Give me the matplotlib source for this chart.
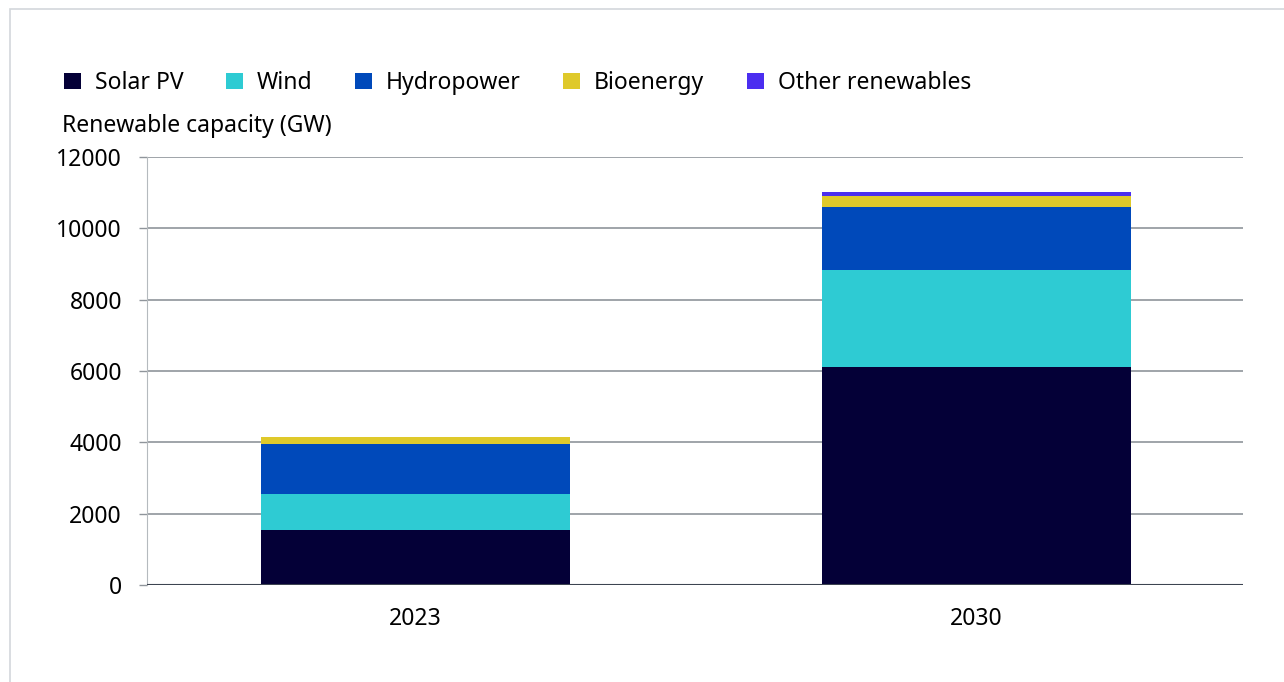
import matplotlib
matplotlib.use("Agg")
import matplotlib.pyplot as plt
from matplotlib.patches import Patch, Rectangle

# data (GW)
years = ["2023", "2030"]
solar = [1540, 6110]
wind = [1010, 2720]
hydro = [1400, 1770]
bio = [195, 310]
other = [15, 110]

series = ["Solar PV", "Wind", "Hydropower", "Bioenergy", "Other renewables"]
colors = ["#040037", "#2ecbd3", "#0049ba", "#dfc92a", "#4b2ef0"]
yticks = [0, 2000, 4000, 6000, 8000, 10000, 12000]

plt.rcParams["font.family"] = ["Noto Sans", "DejaVu Sans"]
fs = 16.5

fig = plt.figure(figsize=(12.84, 6.82), dpi=100)
# light frame around the card
fig.patches.append(Rectangle((10 / 1284, -0.01), 1.02, 1 - 9 / 682 + 0.01,
                             transform=fig.transFigure, fill=False,
                             edgecolor="#d3d7db", linewidth=1.2))

ax = fig.add_axes([147 / 1284, 1 - 585 / 682, 1096 / 1284, 428 / 682])
x = [0, 1]
bottom = [0, 0]
for vals, c in zip([solar, wind, hydro, bio, other], colors):
    ax.bar(x, vals, width=0.551, bottom=bottom, color=c, zorder=3)
    bottom = [b + v for b, v in zip(bottom, vals)]

ax.set_xlim(-0.479, 1.475)
ax.set_ylim(0, 12000)
ax.set_yticks(yticks)
ax.set_yticklabels([str(t) for t in yticks], fontsize=fs)
ax.set_xticks(x)
ax.set_xticklabels(years, fontsize=fs)
ax.tick_params(axis="x", length=0, pad=16)
ax.tick_params(axis="y", length=6, width=1, color="#8f959b", pad=12)
for t in yticks[1:]:
    ax.axhline(t, color="#8f959b", linewidth=1.2, zorder=1)
ax.axhline(0, color="#3d4451", linewidth=1.5, zorder=4)
for s in ["top", "right", "bottom"]:
    ax.spines[s].set_visible(False)
ax.spines["left"].set_color("#b5babe")
ax.spines["left"].set_linewidth(0.8)

fig.text(62 / 1284, 1 - 126 / 682, "Renewable capacity (GW)", fontsize=fs,
         va="center", ha="left")

handles = [Patch(facecolor=c, edgecolor="none") for c in colors]
fig.legend(handles, series, ncol=5, loc="center left",
           bbox_to_anchor=(55 / 1284, 1 - 83 / 682), frameon=False,
           fontsize=fs, handlelength=0.75, handleheight=0.75,
           handletextpad=0.6, columnspacing=1.85, borderaxespad=0)

fig.savefig("out.png", dpi=100)
